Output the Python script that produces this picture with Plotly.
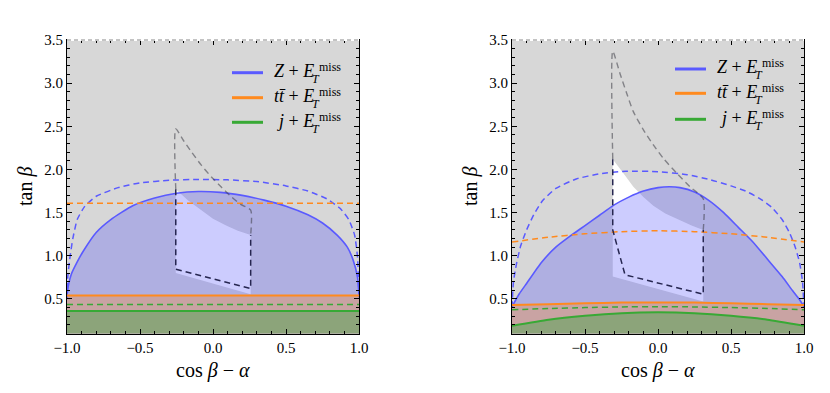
import plotly.graph_objects as go

# ---------------- left panel data ----------------
a_blue_x = [-1.0, -0.99, -0.97, -0.93, -0.89, -0.8, -0.7, -0.55, -0.4, -0.25, -0.1,
            0.05, 0.2, 0.35, 0.5, 0.65, 0.75, 0.85, 0.92, 0.96, 0.99, 1.0]
a_blue_y = [0.54, 0.66, 0.79, 0.93, 1.05, 1.27, 1.42, 1.58, 1.67, 1.725, 1.745,
            1.735, 1.70, 1.645, 1.575, 1.475, 1.38, 1.24, 1.10, 0.95, 0.75, 0.54]
a_blue_dash_x = [-1.0, -0.995, -0.98, -0.96, -0.93, -0.88, -0.8, -0.65, -0.5, -0.3, -0.1,
                 0.1, 0.3, 0.5, 0.65, 0.78, 0.87, 0.93, 0.97, 0.99, 1.0]
a_blue_dash_y = [0.50, 0.75, 0.98, 1.20, 1.42, 1.57, 1.69, 1.79, 1.845, 1.875, 1.885,
                 1.88, 1.86, 1.81, 1.75, 1.66, 1.55, 1.42, 1.24, 0.98, 0.50]
a_flat_x = [-1.0, 1.0]
a_orange_y = [0.54, 0.54]
a_orange_dash_y = [1.61, 1.61]
a_green_y = [0.36, 0.36]
a_green_dash_y = [0.435, 0.435]
a_allowed_x = [-0.255, -0.255, -0.17, -0.09, 0.0, 0.09, 0.17, 0.258, 0.258]
a_allowed_y = [0.80, 1.77, 1.64, 1.54, 1.43, 1.35, 1.29, 1.24, 0.555]
a_upper_x = [-0.255, -0.255, -0.2, -0.146, -0.08, -0.009, 0.06, 0.128, 0.19, 0.258, 0.258]
a_upper_y = [1.77, 2.47, 2.33, 2.20, 2.05, 1.91, 1.79, 1.68, 1.595, 1.53, 1.24]
a_lower_x = [-0.255, -0.255, 0.258, 0.258]
a_lower_y = [1.77, 0.845, 0.62, 1.24]

# ---------------- right panel data ----------------
b_blue_x = [-1.0, -0.95, -0.9, -0.8, -0.7, -0.6, -0.5, -0.4, -0.3, -0.2, -0.1, 0.0,
            0.08, 0.15, 0.25, 0.35, 0.45, 0.55, 0.65, 0.75, 0.85, 0.92, 0.97, 1.0]
b_blue_y = [0.41, 0.56, 0.68, 0.92, 1.10, 1.23, 1.35, 1.47, 1.59, 1.68, 1.75, 1.79,
            1.80, 1.79, 1.74, 1.64, 1.50, 1.33, 1.16, 0.96, 0.76, 0.60, 0.49, 0.41]
b_blue_dash_x = [-1.0, -0.99, -0.97, -0.94, -0.9, -0.85, -0.79, -0.7, -0.56, -0.4, -0.22, 0.0,
                 0.2, 0.36, 0.5, 0.6, 0.7, 0.78, 0.85, 0.9, 0.94, 0.97, 0.99, 1.0]
b_blue_dash_y = [0.40, 0.70, 0.90, 1.12, 1.30, 1.48, 1.64, 1.78, 1.89, 1.95, 1.98, 1.975,
                 1.94, 1.88, 1.81, 1.75, 1.66, 1.56, 1.42, 1.27, 1.10, 0.92, 0.70, 0.40]
b_curve_x = [-1.0, -0.75, -0.5, -0.25, 0.0, 0.25, 0.5, 0.75, 1.0]
b_orange_dash_y = [1.16, 1.215, 1.255, 1.28, 1.29, 1.28, 1.255, 1.215, 1.16]
b_orange_y = [0.43, 0.44, 0.45, 0.458, 0.46, 0.458, 0.45, 0.44, 0.43]
b_green_dash_y = [0.375, 0.39, 0.40, 0.408, 0.41, 0.408, 0.40, 0.39, 0.375]
b_green_y = [0.19, 0.26, 0.305, 0.335, 0.345, 0.335, 0.305, 0.26, 0.19]
b_allowed_x = [-0.31, -0.31, -0.237, -0.169, -0.1, -0.032, 0.05, 0.15, 0.23, 0.31, 0.31]
b_allowed_y = [0.76, 2.12, 1.957, 1.80, 1.68, 1.58, 1.49, 1.41, 1.35, 1.30, 0.47]
b_upper_x = [-0.31, -0.31, -0.26, -0.214, -0.169, -0.10, -0.032, 0.036, 0.128, 0.219, 0.31, 0.31]
b_upper_y = [2.12, 3.37, 3.11, 2.88, 2.67, 2.46, 2.285, 2.13, 1.957, 1.80, 1.66, 1.30]
b_lower_x = [-0.31, -0.31, -0.226, 0.31, 0.31]
b_lower_y = [2.12, 1.30, 0.78, 0.555, 1.30]

legend_labels = ["<i>Z</i> + <i>E</i>", "<i>t</i><i>t\u0304</i> + <i>E</i>", "<i>j</i> + <i>E</i>"]

SERIF = "Liberation Serif, Times New Roman, DejaVu Serif, serif"
BG = "#d7d7d7"
BLUE = "#5a5aff"
ORANGE = "#ff8a1e"
GREEN = "#38a935"
BLUE_FILL = "rgba(66,66,251,0.27)"
PINK_FILL = "#c9a3a3"
OLIVE_FILL = "#8ca47a"
GRAY_DASH = "rgba(60,60,70,0.55)"
NAVY = "#262650"
DASH = "6px,4px"
W, H = 830, 393
OFF = 8  # page body margin


def px(x):
    return (x - OFF) / W


def py(y):
    return 1 - (y - OFF) / H


fig = go.Figure()


def add_panel(xa, ya, p):
    ax = dict(xaxis=xa, yaxis=ya, showlegend=False, hoverinfo="skip")
    sm = dict(shape="spline", smoothing=0.5)
    # allowed region
    fig.add_trace(go.Scatter(x=p["allowed_x"], y=p["allowed_y"], fill="toself",
                             fillcolor="white", mode="lines", line=dict(width=0), **ax))
    # excluded regions
    fig.add_trace(go.Scatter(x=p["blue_x"], y=p["blue_y"], fill="tozeroy",
                             fillcolor=BLUE_FILL, mode="lines", line=dict(width=0, **sm), **ax))
    fig.add_trace(go.Scatter(x=p["orange_x"], y=p["orange_y"], fill="tozeroy",
                             fillcolor=PINK_FILL, mode="lines", line=dict(width=0, **sm), **ax))
    fig.add_trace(go.Scatter(x=p["green_x"], y=p["green_y"], fill="tozeroy",
                             fillcolor=OLIVE_FILL, mode="lines", line=dict(width=0, **sm), **ax))
    # boundary lines
    fig.add_trace(go.Scatter(x=p["blue_dash_x"], y=p["blue_dash_y"], mode="lines",
                             line=dict(color=BLUE, width=1.5, dash=DASH, **sm), **ax))
    fig.add_trace(go.Scatter(x=p["blue_x"], y=p["blue_y"], mode="lines",
                             line=dict(color=BLUE, width=1.6, **sm), **ax))
    fig.add_trace(go.Scatter(x=p["orange_x"], y=p["orange_dash_y"], mode="lines",
                             line=dict(color=ORANGE, width=1.5, dash=DASH, **sm), **ax))
    fig.add_trace(go.Scatter(x=p["orange_x"], y=p["orange_y"], mode="lines",
                             line=dict(color=ORANGE, width=2, **sm), **ax))
    fig.add_trace(go.Scatter(x=p["green_x"], y=p["green_dash_y"], mode="lines",
                             line=dict(color=GREEN, width=1.5, dash=DASH, **sm), **ax))
    fig.add_trace(go.Scatter(x=p["green_x"], y=p["green_y"], mode="lines",
                             line=dict(color=GREEN, width=2, **sm), **ax))
    fig.add_trace(go.Scatter(x=p["upper_x"], y=p["upper_y"], mode="lines",
                             line=dict(color=GRAY_DASH, width=1.4, dash=DASH, shape="spline",
                                       smoothing=0.6), **ax))
    fig.add_trace(go.Scatter(x=p["lower_x"], y=p["lower_y"], mode="lines",
                             line=dict(color=NAVY, width=1.5, dash=DASH), **ax))


add_panel("x", "y", dict(
    allowed_x=a_allowed_x, allowed_y=a_allowed_y,
    blue_x=a_blue_x, blue_y=a_blue_y,
    blue_dash_x=a_blue_dash_x, blue_dash_y=a_blue_dash_y,
    orange_x=a_flat_x, orange_y=a_orange_y, orange_dash_y=a_orange_dash_y,
    green_x=a_flat_x, green_y=a_green_y, green_dash_y=a_green_dash_y,
    upper_x=a_upper_x, upper_y=a_upper_y, lower_x=a_lower_x, lower_y=a_lower_y))
add_panel("x2", "y2", dict(
    allowed_x=b_allowed_x, allowed_y=b_allowed_y,
    blue_x=b_blue_x, blue_y=b_blue_y,
    blue_dash_x=b_blue_dash_x, blue_dash_y=b_blue_dash_y,
    orange_x=b_curve_x, orange_y=b_orange_y, orange_dash_y=b_orange_dash_y,
    green_x=b_curve_x, green_y=b_green_y, green_dash_y=b_green_dash_y,
    upper_x=b_upper_x, upper_y=b_upper_y, lower_x=b_lower_x, lower_y=b_lower_y))

tickfont = dict(family=SERIF, size=15, color="black")
xax = dict(range=[-1, 1], tickvals=[-1, -0.5, 0, 0.5, 1], tickformat=".1f", automargin=False,
           ticks="inside", ticklen=5, tickcolor="black", showline=True, linecolor="black",
           linewidth=1, mirror="allticks", showgrid=False, zeroline=False, tickfont=tickfont,
           minor=dict(ticks="inside", ticklen=3, dtick=0.1, tick0=-1, tickcolor="black", showgrid=False))
yax = dict(range=[0.1, 3.5], tickvals=[0.5, 1.0, 1.5, 2.0, 2.5, 3.0, 3.5], tickformat=".1f",
           automargin=False,
           ticks="inside", ticklen=5, tickcolor="black", showline=True, linecolor="black",
           linewidth=1, mirror="allticks", showgrid=False, zeroline=False, tickfont=tickfont,
           minor=dict(ticks="inside", ticklen=3, dtick=0.1, tick0=0.1, tickcolor="black", showgrid=False))
ydom = [py(333.5), py(40)]

fig.update_layout(
    width=W, height=H, margin=dict(l=0, r=0, t=0, b=0, autoexpand=False),
    plot_bgcolor=BG, paper_bgcolor="white", showlegend=False,
    font=dict(family=SERIF, color="black"),
    xaxis=dict(xax, domain=[px(67), px(359)], anchor="y"),
    yaxis=dict(yax, domain=ydom, anchor="x"),
    xaxis2=dict(xax, domain=[px(512), px(804)], anchor="y2"),
    yaxis2=dict(yax, domain=ydom, anchor="x2"),
)

# top frame is a dashed gray line
for xr, yr in [("x domain", "y domain"), ("x2 domain", "y2 domain")]:
    fig.add_shape(type="line", xref=xr, yref=yr, x0=0, x1=1, y0=1, y1=1,
                  line=dict(color="white", width=2), layer="above")
    fig.add_shape(type="line", xref=xr, yref=yr, x0=0, x1=1, y0=1, y1=1,
                  line=dict(color="#8a8a8a", width=1.2, dash="4px,3px"), layer="above")

# axis titles
for cx in [213, 658]:
    fig.add_annotation(x=px(cx), y=py(370), xref="paper", yref="paper",
                       text="cos <i>β</i> − <i>α</i>", showarrow=False,
                       xanchor="center", yanchor="middle",
                       font=dict(size=20, family=SERIF))
for cx in [25, 470]:
    fig.add_annotation(x=px(cx), y=py(187), xref="paper", yref="paper",
                       text="tan <i>β</i>", textangle=-90, showarrow=False,
                       xanchor="center", yanchor="middle",
                       font=dict(size=20, family=SERIF))

# legends
leg_colors = [BLUE, ORANGE, GREEN]
for dx, rows in [(0, [72.7, 97.7, 122.3]), (443, [69, 93.3, 119.3])]:
    for lab, col, ry in zip(legend_labels, leg_colors, rows):
        fig.add_shape(type="line", xref="paper", yref="paper",
                      x0=px(232 + dx), x1=px(263 + dx), y0=py(ry), y1=py(ry),
                      line=dict(color=col, width=3), layer="above")
        ty = ry - 1.7
        fig.add_annotation(x=px(316 + dx), y=py(ty), xref="paper", yref="paper",
                           text=lab, showarrow=False, xanchor="right", yanchor="middle",
                           font=dict(size=18, family=SERIF))
        fig.add_annotation(x=px(317 + dx), y=py(ty - 4), xref="paper", yref="paper",
                           text="miss", showarrow=False, xanchor="left", yanchor="middle",
                           font=dict(size=12, family=SERIF))
        fig.add_annotation(x=px(310 + dx), y=py(ty + 8), xref="paper", yref="paper",
                           text="<i>T</i>", showarrow=False, xanchor="left", yanchor="middle",
                           font=dict(size=12, family=SERIF))

fig.write_html("out.html")
